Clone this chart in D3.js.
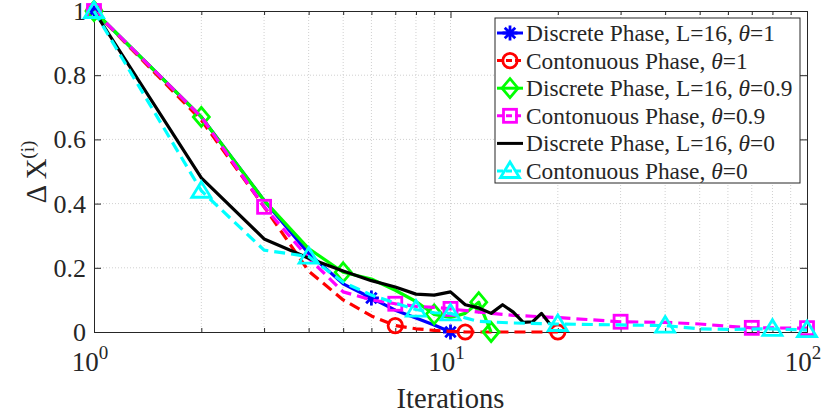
<!DOCTYPE html>
<html>
<head>
<meta charset="utf-8">
<script src="https://cdn.jsdelivr.net/npm/d3@7"></script>
<style>
  body { margin: 0; background: #fff; }
  text { font-family: "Liberation Serif", "Times New Roman", serif; fill: #262626; }
</style>
</head>
<body>
<div id="chart"></div>
<script>
var w = 830;
var h = 415;

// data
var itDisc1 = [1, 2, 3, 4, 5, 6, 7, 8, 9, 10];
var dxDisc1 = [1, 0.67, 0.41, 0.245, 0.15, 0.106, 0.068, 0.044, 0.022, 0];
var mkDisc1 = [1, 6, 10];

var itCont1 = [1, 2, 3, 4, 5, 6, 7, 8, 9, 10, 11, 12, 13, 14, 15, 16, 17, 18, 19, 20];
var dxCont1 = [1, 0.66, 0.39, 0.19, 0.1, 0.05, 0.02, 0.01, 0.005, 0.002, 0, 0, 0, 0, 0, 0, 0, 0, 0, 0];
var mkCont1 = [1, 7, 11, 20];

var itDisc09 = [1, 2, 3, 4, 5, 6, 7, 8, 9, 10, 11, 12, 13];
var dxDisc09 = [1, 0.67, 0.41, 0.26, 0.186, 0.165, 0.13, 0.095, 0.055, 0.045, 0.058, 0.093, 0];
var mkDisc09 = [1, 2, 5, 9, 12, 13];

var itCont09 = [1, 2, 3, 4, 5, 6, 7, 8, 9, 10, 12, 15, 20, 30, 40, 50, 60, 70, 100];
var dxCont09 = [1, 0.67, 0.39, 0.23, 0.125, 0.1, 0.088, 0.08, 0.077, 0.072, 0.062, 0.052, 0.045, 0.032, 0.03, 0.025, 0.018, 0.013, 0.012];
var mkCont09 = [1, 3, 7, 10, 30, 70, 100];

var itDisc0 = [1, 2, 3, 4, 5, 6, 7, 8, 9, 10, 11, 12, 13, 14, 15, 16, 17, 18, 19];
var dxDisc0 = [1, 0.48, 0.29, 0.23, 0.19, 0.16, 0.14, 0.118, 0.115, 0.125, 0.085, 0.075, 0.058, 0.085, 0.062, 0.03, 0.032, 0.058, 0.025];
var mkDisc0 = [];

var itCont0 = [1, 2, 3, 4, 5, 6, 7, 8, 9, 10, 11, 12, 15, 20, 30, 40, 50, 60, 80, 100];
var dxCont0 = [1, 0.44, 0.255, 0.235, 0.155, 0.115, 0.09, 0.07, 0.06, 0.058, 0.044, 0.033, 0.028, 0.025, 0.022, 0.02, 0.01, 0.008, 0.01, 0.006];
var mkCont0 = [1, 2, 4, 8, 10, 20, 40, 80, 100];

var names = ["Discrete Phase, L=16, ", "Contonuous Phase, ", "Discrete Phase, L=16, ",
             "Contonuous Phase, ", "Discrete Phase, L=16, ", "Contonuous Phase, "];
var thetas = ["1", "1", "0.9", "0.9", "0", "0"];

var yTicks = [0, 0.2, 0.4, 0.6, 0.8, 1];
var yTickLabels = ["0", "0.2", "0.4", "0.6", "0.8", "1"];
var xMajor = [1, 10, 100];
var xExp = ["0", "1", "2"];

var series = [
  {it: itDisc1, dx: dxDisc1, mk: mkDisc1, color: "#0000ff", dash: null, marker: "asterisk"},
  {it: itCont1, dx: dxCont1, mk: mkCont1, color: "#ff0000", dash: "11,6", marker: "circle"},
  {it: itDisc09, dx: dxDisc09, mk: mkDisc09, color: "#00ff00", dash: null, marker: "diamond"},
  {it: itCont09, dx: dxCont09, mk: mkCont09, color: "#ff00ff", dash: "11,6", marker: "square"},
  {it: itDisc0, dx: dxDisc0, mk: mkDisc0, color: "#000000", dash: null, marker: null},
  {it: itCont0, dx: dxCont0, mk: mkCont0, color: "#00ffff", dash: "11,6", marker: "triangle"}
];

var pLeft = 94, pRight = 807, pTop = 11, pBottom = 332;

var xScale = d3.scaleLog().domain([1, 100]).range([pLeft, pRight]);
var yScale = d3.scaleLinear().domain([0, 1]).range([pBottom, pTop]);

var xMinor = [];
[1, 10].forEach(function(d) {
  for (var k = 2; k <= 9; k++) xMinor.push(d * k);
});

var svg = d3.select("#chart")
            .append("svg")
            .attr("width", w)
            .attr("height", h);

// grid
var grid = svg.append("g").attr("stroke", "#d0d0d0").attr("stroke-width", 1).attr("stroke-dasharray", "1,2");
grid.selectAll(".gx")
    .data(xMinor.concat([10]))
    .enter().append("line")
    .attr("x1", function(d) { return xScale(d); })
    .attr("x2", function(d) { return xScale(d); })
    .attr("y1", pTop).attr("y2", pBottom);
grid.selectAll(".gy")
    .data(yTicks.slice(1, 5))
    .enter().append("line")
    .attr("x1", pLeft).attr("x2", pRight)
    .attr("y1", function(d) { return yScale(d); })
    .attr("y2", function(d) { return yScale(d); });

// axes, ticks pointing inward
function styleAxis(g) {
  g.selectAll("path, line").attr("stroke", "#262626");
  g.select(".domain").attr("stroke-width", 1);
  g.selectAll("text").remove();
}
svg.append("g").attr("transform", "translate(0," + pBottom + ")")
   .call(d3.axisBottom(xScale).tickValues(xMajor).tickSize(-7).tickSizeOuter(0).tickFormat(""))
   .call(styleAxis);
svg.append("g").attr("transform", "translate(0," + pBottom + ")")
   .call(d3.axisBottom(xScale).tickValues(xMinor).tickSize(-4).tickSizeOuter(0).tickFormat(""))
   .call(styleAxis);
svg.append("g").attr("transform", "translate(0," + pTop + ")")
   .call(d3.axisTop(xScale).tickValues(xMajor).tickSize(-7).tickSizeOuter(0).tickFormat(""))
   .call(styleAxis);
svg.append("g").attr("transform", "translate(0," + pTop + ")")
   .call(d3.axisTop(xScale).tickValues(xMinor).tickSize(-4).tickSizeOuter(0).tickFormat(""))
   .call(styleAxis);
svg.append("g").attr("transform", "translate(" + pLeft + ",0)")
   .call(d3.axisLeft(yScale).tickValues(yTicks).tickSize(-7).tickSizeOuter(0).tickFormat(""))
   .call(styleAxis);
svg.append("g").attr("transform", "translate(" + pRight + ",0)")
   .call(d3.axisRight(yScale).tickValues(yTicks).tickSize(-7).tickSizeOuter(0).tickFormat(""))
   .call(styleAxis);

// tick labels
svg.selectAll(".ylab")
   .data(yTicks)
   .enter().append("text")
   .attr("x", pLeft - 8)
   .attr("y", function(d) { return yScale(d) + 9; })
   .attr("text-anchor", "end")
   .attr("font-size", 26)
   .text(function(d, i) { return yTickLabels[i]; });

var xl = svg.selectAll(".xlab")
   .data(xMajor)
   .enter().append("text")
   .attr("x", function(d) { return xScale(d) - 4; })
   .attr("y", 371)
   .attr("text-anchor", "middle")
   .attr("font-size", 27);
xl.append("tspan").text("10");
xl.append("tspan").attr("dy", -12).attr("font-size", 19).text(function(d, i) { return xExp[i]; });

svg.append("text")
   .attr("x", (pLeft + pRight) / 2)
   .attr("y", 408)
   .attr("text-anchor", "middle")
   .attr("font-size", 28.6)
   .text("Iterations");

var yl = svg.append("text")
   .attr("transform", "translate(46,172) rotate(-90)")
   .attr("text-anchor", "middle")
   .attr("font-size", 28.6);
yl.append("tspan").text("\u0394 X");
yl.append("tspan").attr("dy", -12).attr("font-size", 19).text("(i)");

// markers
function drawMarker(g, type, color, cx, cy) {
  var m = g.append("g").attr("transform", "translate(" + cx + "," + cy + ")")
           .attr("fill", "none").attr("stroke", color).attr("stroke-width", 2.8);
  if (type === "asterisk") {
    var r = 7.5;
    m.append("path").attr("d",
      "M" + (-r) + ",0L" + r + ",0M0," + (-r) + "L0," + r +
      "M" + (-r * 0.7) + "," + (-r * 0.7) + "L" + (r * 0.7) + "," + (r * 0.7) +
      "M" + (-r * 0.7) + "," + (r * 0.7) + "L" + (r * 0.7) + "," + (-r * 0.7));
  } else if (type === "circle") {
    m.append("circle").attr("r", 7.2);
  } else if (type === "diamond") {
    m.append("path").attr("d", "M0,-9.5L8,0L0,9.5L-8,0Z");
  } else if (type === "square") {
    m.append("rect").attr("x", -6.5).attr("y", -6.5).attr("width", 13).attr("height", 13);
  } else if (type === "triangle") {
    m.append("path").attr("d", "M0,-9L9.5,6.5L-9.5,6.5Z");
  }
}

var line = d3.line()
             .x(function(d) { return xScale(d[0]); })
             .y(function(d) { return yScale(d[1]); });

var plot = svg.append("g");
series.forEach(function(s) {
  var pts = s.it.map(function(t, i) { return [t, s.dx[i]]; });
  plot.append("path")
      .datum(pts)
      .attr("d", line)
      .attr("fill", "none")
      .attr("stroke", s.color)
      .attr("stroke-width", 3.2)
      .attr("stroke-linejoin", "round")
      .attr("stroke-dasharray", s.dash);
  if (s.marker) {
    pts.filter(function(p) { return s.mk.indexOf(p[0]) >= 0; })
       .forEach(function(p) { drawMarker(plot, s.marker, s.color, xScale(p[0]), yScale(p[1])); });
  }
});

// legend
var lg = svg.append("g");
lg.append("rect")
  .attr("x", 495).attr("y", 18).attr("width", 305).attr("height", 165)
  .attr("fill", "#fff").attr("stroke", "#262626").attr("stroke-width", 1);
series.forEach(function(s, i) {
  var yy = 33 + i * 27.6;
  lg.append("line")
    .attr("x1", 497).attr("x2", 523).attr("y1", yy).attr("y2", yy)
    .attr("stroke", s.color).attr("stroke-width", 3)
    .attr("stroke-dasharray", s.dash ? "6,3" : null);
  if (s.marker) drawMarker(lg, s.marker, s.color, 510, yy);
  var t = lg.append("text")
    .attr("x", 526).attr("y", yy + 8)
    .attr("font-size", 23.4);
  t.append("tspan").text(names[i]);
  t.append("tspan").attr("font-style", "italic").text("\u03b8");
  t.append("tspan").text("=" + thetas[i]);
});
</script>
</body>
</html>
